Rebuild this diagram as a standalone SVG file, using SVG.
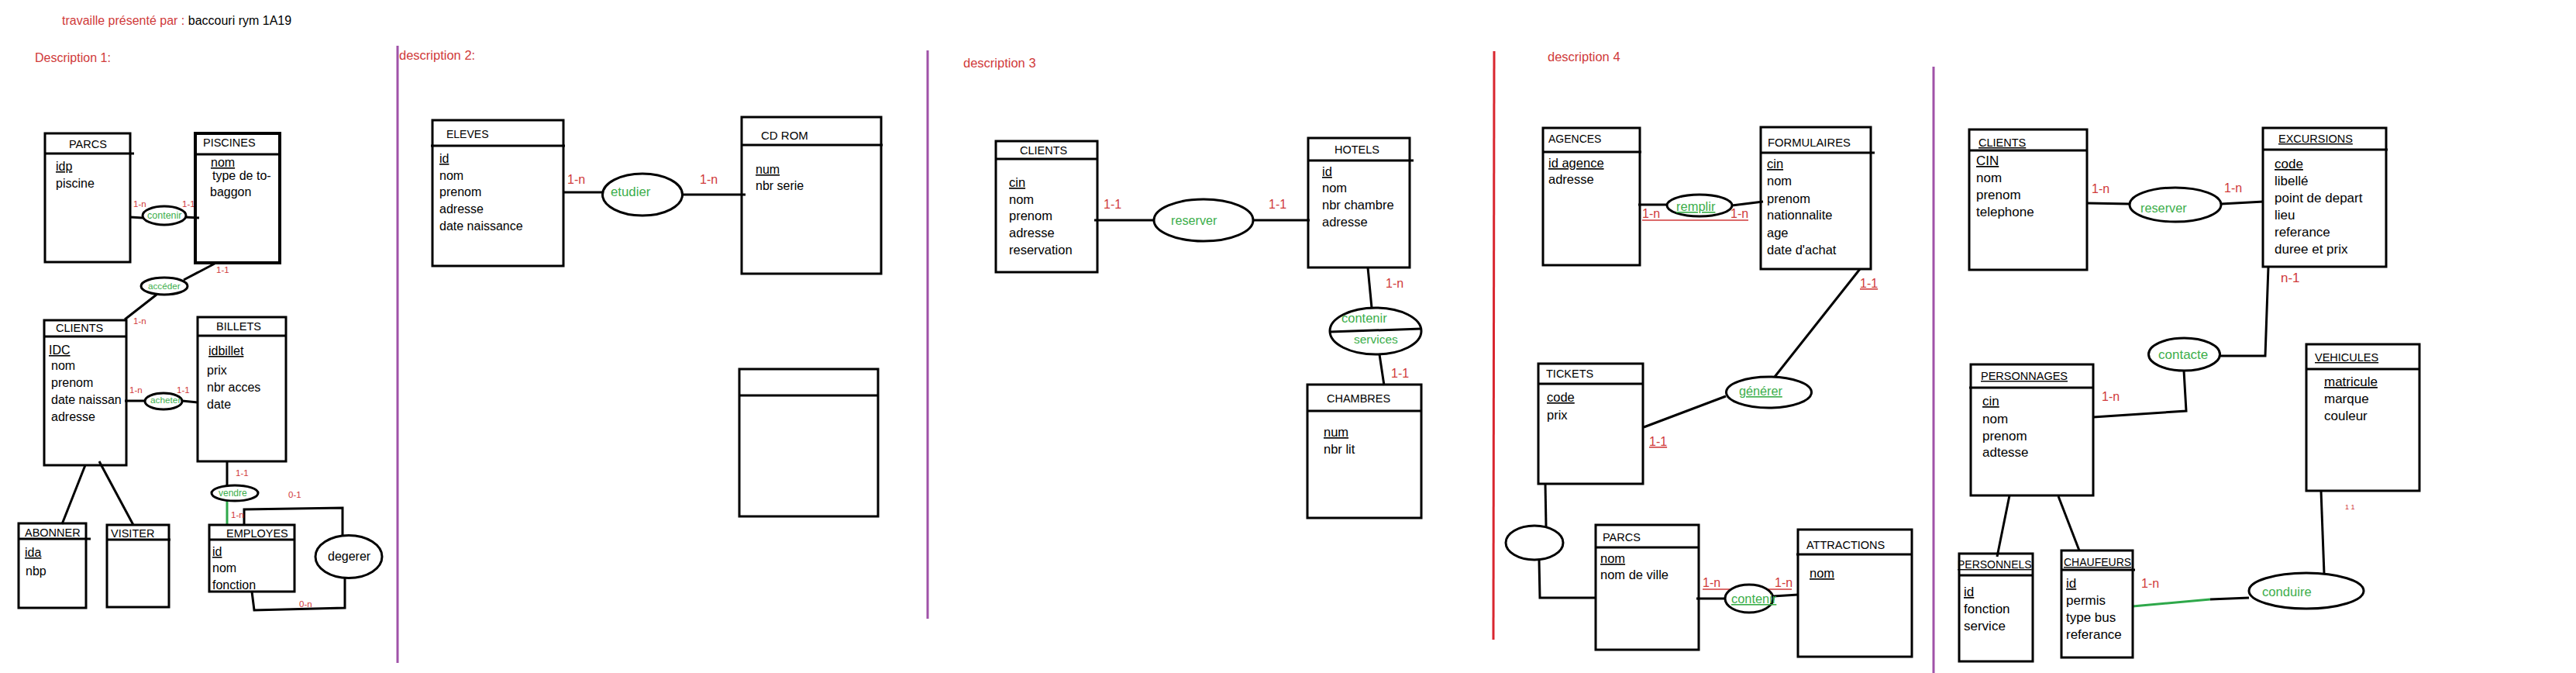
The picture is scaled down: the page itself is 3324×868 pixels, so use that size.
<svg xmlns="http://www.w3.org/2000/svg" width="3324" height="868" viewBox="0 0 3324 868">
<style>
text{font-family:"Liberation Sans",Arial,sans-serif;fill:#000}
.box{fill:none;stroke:#000;stroke-width:3}
.hd{stroke:#000;stroke-width:3}
.ln{fill:none;stroke:#000;stroke-width:3}
.ell{fill:#fff;stroke:#000;stroke-width:3}
.gl{fill:none;stroke:#2ea84a;stroke-width:3}
.rl{stroke:#d03a3a;stroke-width:1.3}
.sep{stroke:#a052a8;stroke-width:3}
.sepr{stroke:#d9262f;stroke-width:3}
.red{fill:#d03a3a}
.grn{fill:#3cae4b}
.u{text-decoration:underline}
.t1{font-size:14.5px}
.a1{font-size:16px}
.a3{font-size:16.5px}
.a5{font-size:17px}
.c16{font-size:16px}
</style>
<rect width="3324" height="868" fill="#fff"/>
<g id="header">
<text x="80" y="32" font-size="16"><tspan class="red">travaille présenté par : </tspan><tspan>baccouri rym 1A19</tspan></text>
<text x="45" y="80" font-size="16" class="red">Description 1:</text>
<text x="515" y="77" font-size="16.5" class="red">description 2:</text>
<text x="1243" y="87" font-size="16.5" class="red">description 3</text>
<text x="1997" y="79" font-size="16.5" class="red">description 4</text>
</g>
<g id="separators">
<line class="sep" x1="513" y1="59" x2="513" y2="855"/>
<line class="sep" x1="1197" y1="65" x2="1197" y2="798"/>
<line class="sepr" x1="1928" y1="66" x2="1927" y2="825"/>
<line class="sep" x1="2495" y1="86" x2="2495" y2="868"/>
</g>
<g id="connectors">
<line class="ln" x1="168" y1="280" x2="184" y2="281"/>
<line class="ln" x1="239" y1="280" x2="257" y2="281"/>
<line class="ln" x1="277" y1="340" x2="237" y2="361"/>
<line class="ln" x1="202" y1="380" x2="161" y2="412"/>
<line class="ln" x1="161" y1="517" x2="187" y2="517"/>
<line class="ln" x1="235" y1="517" x2="255" y2="519"/>
<line class="ln" x1="110" y1="600" x2="80" y2="676"/>
<line class="ln" x1="128" y1="595" x2="172" y2="677"/>
<line class="ln" x1="293" y1="595" x2="293" y2="626"/>
<line class="gl" x1="293" y1="646" x2="293" y2="677"/>
<polyline class="ln" points="315,677 315,657 442,655 442,691"/>
<polyline class="ln" points="445,746 445,784 328,787 325,763"/>
<line class="ln" x1="727" y1="248" x2="778" y2="248"/>
<line class="ln" x1="881" y1="251" x2="962" y2="251"/>
<line class="ln" x1="1412" y1="284" x2="1489" y2="284"/>
<line class="ln" x1="1617" y1="284" x2="1690" y2="284"/>
<line class="ln" x1="1765" y1="345" x2="1770" y2="397"/>
<line class="ln" x1="1780" y1="457" x2="1786" y2="497"/>
<line class="ln" x1="2114" y1="264" x2="2151" y2="264"/>
<line class="ln" x1="2235" y1="265" x2="2275" y2="260"/>
<line class="ln" x1="2400" y1="347" x2="2290" y2="486"/>
<line class="ln" x1="2121" y1="551" x2="2227" y2="511"/>
<line class="ln" x1="1994" y1="624" x2="1995" y2="679"/>
<polyline class="ln" points="1986,722 1987,771 2059,771"/>
<line class="ln" x1="2189" y1="772" x2="2226" y2="772"/>
<line class="ln" x1="2288" y1="769" x2="2320" y2="767"/>
<line class="ln" x1="2693" y1="262" x2="2748" y2="263"/>
<line class="ln" x1="2866" y1="263" x2="2921" y2="260"/>
<polyline class="ln" points="2927,344 2923,459 2864,459"/>
<polyline class="ln" points="2818,478 2821,530 2701,538"/>
<line class="ln" x1="2593" y1="639" x2="2577" y2="718"/>
<line class="ln" x1="2656" y1="640" x2="2683" y2="710"/>
<line class="gl" x1="2752" y1="782" x2="2852" y2="773"/>
<line class="ln" x1="2852" y1="773" x2="2902" y2="771"/>
<line class="ln" x1="2995" y1="633" x2="2999" y2="740"/>
</g>
<g id="cardinalities">
<text x="172" y="267" font-size="11.5" class="red">1-n</text>
<text x="235" y="267" font-size="11.5" class="red">1-1</text>
<text x="279" y="352" font-size="11.5" class="red">1-1</text>
<text x="172" y="418" font-size="11.5" class="red">1-n</text>
<text x="167" y="507" font-size="11.5" class="red">1-n</text>
<text x="228" y="507" font-size="11.5" class="red">1-1</text>
<text x="304" y="614" font-size="11.5" class="red">1-1</text>
<text x="298" y="668" font-size="11.5" class="red">1-n</text>
<text x="372" y="642" font-size="11.5" class="red">0-1</text>
<text x="386" y="783" font-size="11.5" class="red">0-n</text>
<text x="732" y="237" class="c16 red">1-n</text>
<text x="903" y="237" class="c16 red">1-n</text>
<text x="1424" y="269" class="c16 red">1-1</text>
<text x="1637" y="269" class="c16 red">1-1</text>
<text x="1788" y="371" class="c16 red">1-n</text>
<text x="1795" y="487" class="c16 red">1-1</text>
<text x="2119" y="281" class="c16 red">1-n</text>
<text x="2233" y="281" class="c16 red">1-n</text>
<line class="rl" x1="2119" y1="284" x2="2256" y2="284"/>
<text x="2400" y="371" class="c16 red u">1-1</text>
<text x="2128" y="575" class="c16 red u">1-1</text>
<text x="2197" y="757" class="c16 red">1-n</text>
<text x="2290" y="757" class="c16 red">1-n</text>
<line class="rl" x1="2197" y1="760" x2="2312" y2="760"/>
<text x="2699" y="249" class="c16 red">1-n</text>
<text x="2870" y="248" class="c16 red">1-n</text>
<text x="2943" y="364" font-size="17" class="red">n-1</text>
<text x="2712" y="517" class="c16 red">1-n</text>
<text x="2763" y="758" class="c16 red">1-n</text>
<text x="3026" y="657" font-size="9" class="red">1 1</text>
</g>
<g id="parcs1">
<rect class="box" x="58" y="172" width="110" height="166"/>
<line class="hd" x1="58" y1="198" x2="173" y2="198"/>
<text x="89" y="191" class="t1">PARCS</text>
<text x="72" y="220" class="a1 u">idp</text>
<text x="72" y="242" class="a1">piscine</text>
</g>
<g id="piscines">
<rect x="252" y="172" width="109" height="167" fill="none" stroke="#000" stroke-width="4"/>
<line class="hd" x1="252" y1="199" x2="363" y2="199"/>
<text x="262" y="189" class="t1">PISCINES</text>
<text x="272" y="215" class="a1 u">nom</text>
<text x="274" y="232" class="a1">type de to-</text>
<text x="271" y="253" class="a1">baggon</text>
</g>
<g id="contenir1">
<ellipse class="ell" cx="212" cy="278" rx="28" ry="12"/>
<text x="190" y="282" font-size="12.5" class="grn">contenir</text>
</g>
<g id="acceder">
<ellipse class="ell" cx="212" cy="369" rx="30" ry="11"/>
<text x="191" y="373" font-size="11.7" class="grn">accéder</text>
</g>
<g id="clients1">
<rect class="box" x="57" y="413" width="106" height="187"/>
<line class="hd" x1="57" y1="434" x2="163" y2="434"/>
<text x="72" y="428" class="t1">CLIENTS</text>
<text x="63" y="457" class="a1 u">IDC</text>
<text x="66" y="477" class="a1">nom</text>
<text x="66" y="499" class="a1">prenom</text>
<text x="66" y="521" class="a1">date naissan</text>
<text x="66" y="543" class="a1">adresse</text>
</g>
<g id="billets">
<rect class="box" x="255" y="409" width="114" height="186"/>
<line class="hd" x1="255" y1="433" x2="369" y2="433"/>
<text x="279" y="426" class="t1">BILLETS</text>
<text x="269" y="458" class="a1 u">idbillet</text>
<text x="267" y="483" class="a1">prix</text>
<text x="267" y="505" class="a1">nbr acces</text>
<text x="267" y="527" class="a1">date</text>
</g>
<g id="acheter">
<ellipse class="ell" cx="211" cy="517.5" rx="24" ry="10.5"/>
<text x="194" y="520" font-size="11.8" class="grn">acheter</text>
</g>
<g id="abonner">
<rect class="box" x="24" y="675" width="87" height="109"/>
<line class="hd" x1="24" y1="695" x2="117" y2="695"/>
<text x="32" y="692" class="t1">ABONNER</text>
<text x="32" y="718" class="a1 u">ida</text>
<text x="33" y="742" class="a1">nbp</text>
</g>
<g id="visiter">
<rect class="box" x="138" y="677" width="80" height="106"/>
<line class="hd" x1="138" y1="696" x2="220" y2="696"/>
<text x="143" y="693" class="t1">VISITER</text>
</g>
<g id="vendre">
<ellipse class="ell" cx="303" cy="636" rx="30" ry="10"/>
<text x="282" y="640" font-size="12" class="grn">vendre</text>
</g>
<g id="employes">
<rect class="box" x="270" y="677" width="110" height="86"/>
<line class="hd" x1="270" y1="696" x2="381" y2="696"/>
<text x="292" y="693" class="t1">EMPLOYES</text>
<text x="274" y="717" class="a1 u">id</text>
<text x="274" y="738" class="a1">nom</text>
<text x="274" y="760" class="a1">fonction</text>
</g>
<g id="degerer">
<ellipse class="ell" cx="450" cy="718" rx="43" ry="27.5"/>
<text x="423" y="723" font-size="16">degerer</text>
</g>
<g id="eleves">
<rect class="box" x="558" y="155" width="169" height="188"/>
<line class="hd" x1="556" y1="188" x2="729" y2="188"/>
<text x="576" y="178" font-size="14">ELEVES</text>
<text x="567" y="210" class="a1 u">id</text>
<text x="567" y="232" class="a1">nom</text>
<text x="567" y="253" class="a1">prenom</text>
<text x="567" y="275" class="a1">adresse</text>
<text x="567" y="297" class="a1">date naissance</text>
</g>
<g id="cdrom">
<rect class="box" x="957" y="151" width="180" height="202"/>
<line class="hd" x1="957" y1="187" x2="1139" y2="187"/>
<text x="982" y="180" font-size="15">CD ROM</text>
<text x="975" y="224" class="a1 u">num</text>
<text x="975" y="245" class="a1">nbr serie</text>
</g>
<g id="etudier">
<ellipse class="ell" cx="829" cy="251" rx="51.5" ry="27"/>
<text x="788" y="253" font-size="16.8" class="grn">etudier</text>
</g>
<g id="empty2">
<rect class="box" x="954" y="476" width="179" height="190"/>
<line class="hd" x1="954" y1="510" x2="1133" y2="510"/>
</g>
<g id="clients3">
<rect class="box" x="1285" y="182" width="131" height="169"/>
<line class="hd" x1="1285" y1="205" x2="1416" y2="205"/>
<text x="1316" y="199" class="t1">CLIENTS</text>
<text x="1302" y="241" class="a3 u">cin</text>
<text x="1302" y="263" class="a3">nom</text>
<text x="1302" y="284" class="a3">prenom</text>
<text x="1302" y="306" class="a3">adresse</text>
<text x="1302" y="328" class="a3">reservation</text>
</g>
<g id="hotels">
<rect class="box" x="1688" y="178" width="131" height="167"/>
<line class="hd" x1="1688" y1="207" x2="1824" y2="207"/>
<text x="1722" y="198" class="t1">HOTELS</text>
<text x="1706" y="227" class="a3 u">id</text>
<text x="1706" y="248" class="a3">nom</text>
<text x="1706" y="270" class="a3">nbr chambre</text>
<text x="1706" y="292" class="a3">adresse</text>
</g>
<g id="reserver3">
<ellipse class="ell" cx="1553" cy="284" rx="64" ry="27"/>
<text x="1511" y="290" font-size="16.2" class="grn">reserver</text>
</g>
<g id="contenir3">
<ellipse class="ell" cx="1775" cy="427" rx="59" ry="30"/>
<line class="hd" x1="1716" y1="428" x2="1834" y2="424"/>
<text x="1731" y="416" font-size="16.5" class="grn">contenir</text>
<text x="1747" y="443" font-size="15.5" class="grn">services</text>
</g>
<g id="chambres">
<rect class="box" x="1687" y="496" width="147" height="172"/>
<line class="hd" x1="1686" y1="530" x2="1835" y2="530"/>
<text x="1712" y="519" class="t1">CHAMBRES</text>
<text x="1708" y="563" class="a3 u">num</text>
<text x="1708" y="585" class="a3">nbr lit</text>
</g>
<g id="agences">
<rect class="box" x="1991" y="165" width="125" height="177"/>
<line class="hd" x1="1991" y1="196" x2="2118" y2="196"/>
<text x="1998" y="184" font-size="14">AGENCES</text>
<text x="1998" y="216" class="a3 u">id agence</text>
<text x="1998" y="237" class="a3">adresse</text>
</g>
<g id="formulaires">
<rect class="box" x="2272" y="164" width="142" height="183"/>
<line class="hd" x1="2272" y1="197" x2="2419" y2="197"/>
<text x="2281" y="189" font-size="14.8">FORMULAIRES</text>
<text x="2280" y="217" class="a3 u">cin</text>
<text x="2280" y="239" class="a3">nom</text>
<text x="2280" y="262" class="a3">prenom</text>
<text x="2280" y="283" class="a3">nationnalite</text>
<text x="2280" y="306" class="a3">age</text>
<text x="2280" y="328" class="a3">date d'achat</text>
</g>
<g id="remplir">
<ellipse class="ell" cx="2193" cy="265" rx="42" ry="14"/>
<text x="2163" y="272" font-size="16.5" class="grn u">remplir</text>
</g>
<g id="tickets">
<rect class="box" x="1985" y="469" width="135" height="155"/>
<line class="hd" x1="1985" y1="495" x2="2121" y2="495"/>
<text x="1995" y="487" class="t1">TICKETS</text>
<text x="1996" y="518" class="a3 u">code</text>
<text x="1996" y="541" class="a3">prix</text>
</g>
<g id="generer">
<ellipse class="ell" cx="2282.5" cy="506" rx="55" ry="20"/>
<text x="2244" y="510" font-size="16.2" class="grn u">générer</text>
</g>
<g id="assoc4">
<ellipse class="ell" cx="1980" cy="700" rx="37" ry="22"/>
</g>
<g id="parcs4">
<rect class="box" x="2059" y="677" width="133" height="161"/>
<line class="hd" x1="2059" y1="706" x2="2192" y2="706"/>
<text x="2068" y="698" class="t1">PARCS</text>
<text x="2065" y="726" class="a3 u">nom</text>
<text x="2065" y="747" class="a3">nom de ville</text>
</g>
<g id="contenir4">
<ellipse class="ell" cx="2257" cy="772" rx="31" ry="18"/>
<text x="2234" y="778" font-size="16.4" class="grn u">contenir</text>
</g>
<g id="attractions">
<rect class="box" x="2320" y="683" width="147" height="164"/>
<line class="hd" x1="2318" y1="715" x2="2467" y2="715"/>
<text x="2331" y="708" class="t1">ATTRACTIONS</text>
<text x="2335" y="745" class="a3 u">nom</text>
</g>
<g id="clients5">
<rect class="box" x="2541" y="167" width="152" height="181"/>
<line class="hd" x1="2541" y1="194" x2="2693" y2="194"/>
<text x="2553" y="189" class="t1 u">CLIENTS</text>
<text x="2550" y="213" class="a5 u">CIN</text>
<text x="2550" y="235" class="a5">nom</text>
<text x="2550" y="257" class="a5">prenom</text>
<text x="2550" y="279" class="a5">telephone</text>
</g>
<g id="reserver5">
<ellipse class="ell" cx="2807" cy="264" rx="59" ry="22"/>
<text x="2762" y="274" font-size="16.3" class="grn">reserver</text>
</g>
<g id="excursions">
<rect class="box" x="2920" y="165" width="159" height="179"/>
<line class="hd" x1="2920" y1="193" x2="3081" y2="193"/>
<text x="2940" y="184" class="t1 u">EXCURSIONS</text>
<text x="2935" y="217" class="a5 u">code</text>
<text x="2935" y="239" class="a5">libellé</text>
<text x="2935" y="261" class="a5">point de depart</text>
<text x="2935" y="283" class="a5">lieu</text>
<text x="2935" y="305" class="a5">referance</text>
<text x="2935" y="327" class="a5">duree et prix</text>
</g>
<g id="contacte">
<ellipse class="ell" cx="2818.5" cy="457" rx="46" ry="21"/>
<text x="2785" y="463" font-size="17" class="grn">contacte</text>
</g>
<g id="personnages">
<rect class="box" x="2543" y="470" width="158" height="169"/>
<line class="hd" x1="2541" y1="500" x2="2701" y2="500"/>
<text x="2556" y="490" class="t1 u">PERSONNAGES</text>
<text x="2558" y="523" class="a5 u">cin</text>
<text x="2558" y="546" class="a5">nom</text>
<text x="2558" y="568" class="a5">prenom</text>
<text x="2558" y="589" class="a5">adtesse</text>
</g>
<g id="personnels">
<rect class="box" x="2528" y="714" width="95" height="139"/>
<line class="hd" x1="2528" y1="742" x2="2623" y2="742"/>
<text x="2526" y="733" font-size="14" class="u">PERSONNELS</text>
<text x="2534" y="769" class="a5 u">id</text>
<text x="2534" y="791" class="a5">fonction</text>
<text x="2534" y="813" class="a5">service</text>
</g>
<g id="chaufeurs">
<rect class="box" x="2660" y="710" width="92" height="138"/>
<line class="hd" x1="2660" y1="735" x2="2755" y2="735"/>
<text x="2663" y="730" font-size="14" class="u">CHAUFEURS</text>
<text x="2666" y="758" class="a5 u">id</text>
<text x="2666" y="780" class="a5">permis</text>
<text x="2666" y="802" class="a5">type bus</text>
<text x="2666" y="824" class="a5">referance</text>
</g>
<g id="conduire">
<ellipse class="ell" cx="2976" cy="762" rx="74" ry="23"/>
<text x="2919" y="769" font-size="16.6" class="grn">conduire</text>
</g>
<g id="vehicules">
<rect class="box" x="2976" y="444" width="146" height="189"/>
<line class="hd" x1="2976" y1="476" x2="3123" y2="476"/>
<text x="2987" y="466" class="t1 u">VEHICULES</text>
<text x="2999" y="498" class="a5 u">matricule</text>
<text x="2999" y="520" class="a5">marque</text>
<text x="2999" y="542" class="a5">couleur</text>
</g>
</svg>
